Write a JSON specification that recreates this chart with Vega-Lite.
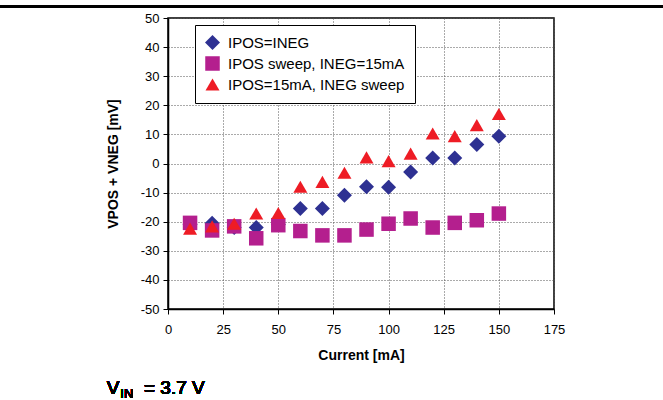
{
  "$schema": "https://vega.github.io/schema/vega-lite/v6.json",
  "autosize": "none",
  "width": 386,
  "height": 291,
  "padding": {"left": 168, "top": 18, "right": 109, "bottom": 91},
  "background": "white",
  "config": {
    "view": {"stroke": "black", "strokeWidth": 1.5},
    "axis": {
      "domainColor": "black", "domainWidth": 1.5,
      "tickColor": "black", "tickSize": 5,
      "labelColor": "black", "labelFontSize": 13, "labelFont": "Liberation Sans",
      "titleColor": "black", "titleFont": "Liberation Sans", "titleFontWeight": "bold",
      "titleFontSize": 14, "labelOverlap": false, "labelFlush": false,
      "grid": true, "gridDash": [1, 2], "gridColor": "#555555", "gridWidth": 1
    }
  },
  "data": {"values": [
    {"current": 10, "value": -21.0, "series": "IPOS=INEG"},
    {"current": 20, "value": -20.5, "series": "IPOS=INEG"},
    {"current": 30, "value": -22.0, "series": "IPOS=INEG"},
    {"current": 40, "value": -22.0, "series": "IPOS=INEG"},
    {"current": 50, "value": -21.0, "series": "IPOS=INEG"},
    {"current": 60, "value": -15.5, "series": "IPOS=INEG"},
    {"current": 70, "value": -15.5, "series": "IPOS=INEG"},
    {"current": 80, "value": -10.9, "series": "IPOS=INEG"},
    {"current": 90, "value": -8.0, "series": "IPOS=INEG"},
    {"current": 100, "value": -8.2, "series": "IPOS=INEG"},
    {"current": 110, "value": -2.9, "series": "IPOS=INEG"},
    {"current": 120, "value": 1.9, "series": "IPOS=INEG"},
    {"current": 130, "value": 1.9, "series": "IPOS=INEG"},
    {"current": 140, "value": 6.5, "series": "IPOS=INEG"},
    {"current": 150, "value": 9.4, "series": "IPOS=INEG"},
    {"current": 10, "value": -20.4, "series": "IPOS sweep, INEG=15mA"},
    {"current": 20, "value": -23.0, "series": "IPOS sweep, INEG=15mA"},
    {"current": 30, "value": -21.6, "series": "IPOS sweep, INEG=15mA"},
    {"current": 40, "value": -25.7, "series": "IPOS sweep, INEG=15mA"},
    {"current": 50, "value": -21.2, "series": "IPOS sweep, INEG=15mA"},
    {"current": 60, "value": -23.2, "series": "IPOS sweep, INEG=15mA"},
    {"current": 70, "value": -24.7, "series": "IPOS sweep, INEG=15mA"},
    {"current": 80, "value": -24.7, "series": "IPOS sweep, INEG=15mA"},
    {"current": 90, "value": -22.7, "series": "IPOS sweep, INEG=15mA"},
    {"current": 100, "value": -20.7, "series": "IPOS sweep, INEG=15mA"},
    {"current": 110, "value": -18.9, "series": "IPOS sweep, INEG=15mA"},
    {"current": 120, "value": -22.0, "series": "IPOS sweep, INEG=15mA"},
    {"current": 130, "value": -20.4, "series": "IPOS sweep, INEG=15mA"},
    {"current": 140, "value": -19.5, "series": "IPOS sweep, INEG=15mA"},
    {"current": 150, "value": -17.2, "series": "IPOS sweep, INEG=15mA"},
    {"current": 10, "value": -22.4, "series": "IPOS=15mA, INEG sweep"},
    {"current": 20, "value": -21.6, "series": "IPOS=15mA, INEG sweep"},
    {"current": 30, "value": -20.7, "series": "IPOS=15mA, INEG sweep"},
    {"current": 40, "value": -17.2, "series": "IPOS=15mA, INEG sweep"},
    {"current": 50, "value": -17.0, "series": "IPOS=15mA, INEG sweep"},
    {"current": 60, "value": -8.0, "series": "IPOS=15mA, INEG sweep"},
    {"current": 70, "value": -6.3, "series": "IPOS=15mA, INEG sweep"},
    {"current": 80, "value": -3.2, "series": "IPOS=15mA, INEG sweep"},
    {"current": 90, "value": 2.1, "series": "IPOS=15mA, INEG sweep"},
    {"current": 100, "value": 0.8, "series": "IPOS=15mA, INEG sweep"},
    {"current": 110, "value": 3.4, "series": "IPOS=15mA, INEG sweep"},
    {"current": 120, "value": 10.3, "series": "IPOS=15mA, INEG sweep"},
    {"current": 130, "value": 9.4, "series": "IPOS=15mA, INEG sweep"},
    {"current": 140, "value": 13.2, "series": "IPOS=15mA, INEG sweep"},
    {"current": 150, "value": 17.0, "series": "IPOS=15mA, INEG sweep"}
  ]},
  "layer": [
    {
      "mark": {"type": "point", "filled": true, "opacity": 1, "strokeWidth": 0},
      "encoding": {
        "x": {"field": "current", "type": "quantitative",
              "scale": {"domain": [0, 175], "nice": false, "zero": false},
              "axis": {"values": [0, 25, 50, 75, 100, 125, 150, 175], "title": "Current [mA]",
                       "grid": true, "labelOverlap": false, "labelFlush": false,
                       "labelPadding": 9, "titlePadding": 12}},
        "y": {"field": "value", "type": "quantitative",
              "scale": {"domain": [-50, 50], "nice": false, "zero": false},
              "axis": {"values": [-50, -40, -30, -20, -10, 0, 10, 20, 30, 40, 50],
                       "grid": true, "labelOverlap": false, "labelFlush": false,
                       "labelExpr": "replace(datum.label, '\u2212', '-')",
                       "title": "VPOS + VNEG [mV]", "labelPadding": 4, "titlePadding": 20}},
        "color": {"field": "series", "type": "nominal",
                  "scale": {"domain": ["IPOS=INEG", "IPOS sweep, INEG=15mA", "IPOS=15mA, INEG sweep"],
                            "range": ["#2e3192", "#b41f8e", "#ee1c25"]},
                  "legend": {"title": null, "orient": "none", "legendX": 27, "legendY": 7,
                             "strokeColor": "black", "fillColor": "white", "padding": 10,
                             "labelFontSize": 15, "labelFont": "Liberation Sans", "labelColor": "black",
                             "labelLimit": 400, "symbolSize": 200, "rowPadding": 5, "labelOffset": 8,
                             "symbolStrokeWidth": 0}},
        "shape": {"field": "series", "type": "nominal",
                  "scale": {"domain": ["IPOS=INEG", "IPOS sweep, INEG=15mA", "IPOS=15mA, INEG sweep"],
                            "range": ["diamond", "square", "triangle-up"]},
                  "legend": {"title": null}},
        "size": {"field": "series", "type": "nominal",
                 "scale": {"domain": ["IPOS=INEG", "IPOS sweep, INEG=15mA", "IPOS=15mA, INEG sweep"],
                           "range": [225, 196, 256]},
                 "legend": null}
      }
    },
    {
      "mark": {"type": "rule", "clip": false, "color": "black", "strokeWidth": 2},
      "encoding": {
        "x": {"datum": -76.2, "axis": {"values": [0, 25, 50, 75, 100, 125, 150, 175], "title": "Current [mA]",
                       "grid": true, "labelOverlap": false, "labelFlush": false,
                       "labelPadding": 9, "titlePadding": 12}},
        "x2": {"datum": 224.5},
        "y": {"datum": 54, "axis": {"values": [-50, -40, -30, -20, -10, 0, 10, 20, 30, 40, 50],
                       "grid": true, "labelOverlap": false, "labelFlush": false,
                       "labelExpr": "replace(datum.label, '\u2212', '-')",
                       "title": "VPOS + VNEG [mV]", "labelPadding": 4, "titlePadding": 20}}
      }
    },
    {
      "mark": {"type": "text", "clip": false, "align": "left", "baseline": "alphabetic",
               "fontSize": 19, "fontWeight": "normal", "font": "Liberation Sans", "color": "black"},
      "encoding": {
        "x": {"datum": -27.8, "axis": {"values": [0, 25, 50, 75, 100, 125, 150, 175], "title": "Current [mA]",
                       "grid": true, "labelOverlap": false, "labelFlush": false,
                       "labelPadding": 9, "titlePadding": 12}},
        "y": {"datum": -79.2, "axis": {"values": [-50, -40, -30, -20, -10, 0, 10, 20, 30, 40, 50],
                       "grid": true, "labelOverlap": false, "labelFlush": false,
                       "labelExpr": "replace(datum.label, '\u2212', '-')",
                       "title": "VPOS + VNEG [mV]", "labelPadding": 4, "titlePadding": 20}},
        "text": {"value": "V"}}
    },
    {
      "mark": {"type": "text", "clip": false, "align": "left", "baseline": "alphabetic",
               "fontSize": 13, "fontWeight": "normal", "font": "Liberation Sans", "color": "black"},
      "encoding": {
        "x": {"datum": -21.6, "axis": {"values": [0, 25, 50, 75, 100, 125, 150, 175], "title": "Current [mA]",
                       "grid": true, "labelOverlap": false, "labelFlush": false,
                       "labelPadding": 9, "titlePadding": 12}},
        "y": {"datum": -80.7, "axis": {"values": [-50, -40, -30, -20, -10, 0, 10, 20, 30, 40, 50],
                       "grid": true, "labelOverlap": false, "labelFlush": false,
                       "labelExpr": "replace(datum.label, '\u2212', '-')",
                       "title": "VPOS + VNEG [mV]", "labelPadding": 4, "titlePadding": 20}},
        "text": {"value": "IN"}}
    },
    {
      "mark": {"type": "text", "clip": false, "align": "left", "baseline": "alphabetic",
               "fontSize": 19, "fontWeight": "normal", "font": "Liberation Sans", "color": "black"},
      "encoding": {
        "x": {"datum": -10.9, "axis": {"values": [0, 25, 50, 75, 100, 125, 150, 175], "title": "Current [mA]",
                       "grid": true, "labelOverlap": false, "labelFlush": false,
                       "labelPadding": 9, "titlePadding": 12}},
        "y": {"datum": -79.2, "axis": {"values": [-50, -40, -30, -20, -10, 0, 10, 20, 30, 40, 50],
                       "grid": true, "labelOverlap": false, "labelFlush": false,
                       "labelExpr": "replace(datum.label, '\u2212', '-')",
                       "title": "VPOS + VNEG [mV]", "labelPadding": 4, "titlePadding": 20}},
        "text": {"value": "= 3.7 V"}}
    }
  ]
}
